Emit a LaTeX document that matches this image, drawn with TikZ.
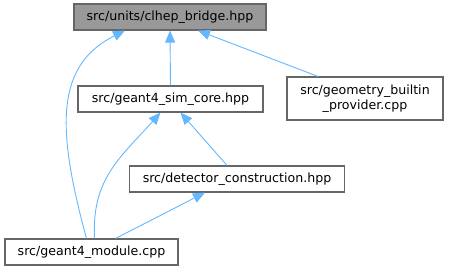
\documentclass[tikz,border=0pt]{standalone}
\usepackage{fontspec}
\setmainfont{DejaVu Sans}
\usetikzlibrary{arrows.meta}
\definecolor{edgeblue}{HTML}{63B8FF}
\definecolor{boxline}{HTML}{666666}
\definecolor{boxfill}{HTML}{999999}

\begin{document}
\begin{tikzpicture}[
      x=1pt, y=-1pt,
      font=\fontsize{12.6}{15}\selectfont,
      file/.style={draw=boxline, line width=1.1pt, fill=white, inner xsep=0pt, minimum height=26pt, align=center},
      mainfile/.style={file, fill=boxfill},
      dep/.style={draw=edgeblue, line width=0.9pt, {Triangle[length=12pt,width=10pt,fill=edgeblue]}-}
    ]
    \useasboundingbox (0,0) rectangle (449,271);
    \node (top) [mainfile, minimum width=192pt] at (170,17) {src/units/clhep\_bridge.hpp};
    \node (sim) [file, minimum width=185pt] at (170.5,99) {src/geant4\_sim\_core.hpp};
    \node (geo) [file, minimum width=156pt, minimum height=43pt] at (365,98.5) {src/geometry\_builtin\\\_provider.cpp};
    \node (det) [file, minimum width=215pt] at (237,179) {src/detector\_construction.hpp};
    \node (mod) [file, minimum width=173pt] at (91.5,252) {src/geant4\_module.cpp};
    \draw[dep] (top.south) -- (sim.north);
    \draw[dep] ([xshift=28pt]top.south) -- ([xshift=-47pt]geo.north);
    \draw[dep] ([xshift=-45pt]top.south) .. controls +(-70,35) and +(-30,-110) .. ([xshift=-5pt]mod.north);
    \draw[dep] ([xshift=10pt]sim.south) -- ([xshift=-10pt]det.north);
    \draw[dep] ([xshift=-10pt]sim.south) .. controls +(-40,45) and +(-3,-60) .. ([xshift=3pt]mod.north);
    \draw[dep] ([xshift=-32pt]det.south) -- ([xshift=24pt]mod.north);
  \end{tikzpicture}
\end{document}
